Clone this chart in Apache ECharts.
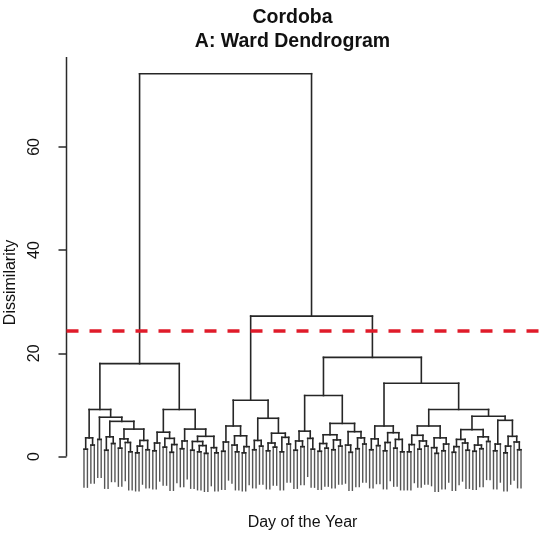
<!DOCTYPE html>
<html>
<head>
<meta charset="utf-8">
<script src="https://cdn.jsdelivr.net/npm/echarts@6/dist/echarts.min.js"></script>
<style>
  html, body { margin: 0; padding: 0; background: #ffffff; }
  #chart { width: 543px; height: 541px; }
</style>
</head>
<body>
<div id="chart"></div>
<script>
// Ward clustering of days, Cordoba.
// Each merge is [height, left, right]; a bare 0 is a single day (leaf).

// Left branch
const clusterA1 = [9.1,
  [3.6, [1.4, 0, 0], [2.2, 0, 0]],
  [7.6,
    [3.3, 0, 0],
    [6.8,
      [3.8, [1.2, 0, 0], [2.5, 0, 0]],
      [5.3,
        [3.4, [1.6, 0, 0], [2.7, 0, [0.9, 0, 0]]],
        [3.1, [2.0, [0.7, 0, 0], 0], [1.3, 0, 0]]]]]];

const clusterA2 = [9.1,
  [4.7,
    [2.6, [1.1, 0, 0], 0],
    [3.5, [1.8, 0, 0], [2.3, [0.8, 0, 0], 0]]],
  [5.3,
    [3.0, [1.5, 0, 0], 0],
    [3.9,
      [2.9, [1.2, 0, 0], [2.1, [0.9, 0, 0], [0.6, 0, 0]]],
      [1.7, 0, [0.7, 0, 0]]]]];

// Right branch, first group
const clusterB1a = [5.9,
  [2.8, [1.0, 0, 0], 0],
  [4.0, [2.2, 0, [0.9, 0, 0]], [1.9, [0.7, 0, 0], 0]]];

const clusterB1b = [7.4,
  [3.1, [1.3, 0, 0], [2.0, 0, 0]],
  [4.5,
    [2.6, [1.1, 0, 0], [1.8, 0, 0]],
    [3.7, [0.9, 0, 0], [2.4, 0, 0]]]];

// Right branch, second group
const clusterB2aLeft = [4.9,
  [3.0, [1.2, 0, 0], [1.9, 0, 0]],
  [3.5, 0, [1.4, 0, 0]]];

const clusterB2aRight = [6.4,
  [4.2, [2.5, [1.0, 0, 0], [1.6, 0, 0]], [3.2, [1.3, 0, 0], [2.0, 0, 0]]],
  [4.8, [2.2, 0, [0.8, 0, 0]], [3.6, [1.5, 0, 0], [2.4, 0, 0]]]];

const clusterB2bLeft = [5.9,
  [3.4, [1.3, 0, 0], [2.1, 0, 0]],
  [4.6, [2.7, [1.1, 0, 0], 0], [3.3, [1.6, 0, 0], [0.9, 0, 0]]]];

const clusterB2bMid = [5.9,
  [4.1, [2.3, [0.9, 0, 0], 0], [3.0, [1.4, 0, 0], [2.0, 0, 0]]],
  [3.6, [1.7, 0, [0.6, 0, 0]], [2.4, [1.1, 0, 0], 0]]];

const clusterB2bRightA = [5.2,
  [3.3, [1.9, [0.8, 0, 0], 0], [2.6, 0, [1.2, 0, 0]]],
  [3.8, [2.2, [1.0, 0, 0], [1.5, 0, 0]], [2.9, 0, 0]]];

const clusterB2bRightB = [7.0,
  [2.4, [1.1, 0, 0], 0],
  [3.9, [2.0, [0.7, 0, 0], 0], [2.8, 0, [1.3, 0, 0]]]];

// Upper merges
const clusterA   = [18.0, clusterA1, clusterA2];
const clusterB1  = [10.9, clusterB1a, clusterB1b];
const clusterB2a = [11.8, clusterB2aLeft, clusterB2aRight];
const clusterB2b = [14.2, clusterB2bLeft,
  [9.1, clusterB2bMid, [7.8, clusterB2bRightA, clusterB2bRightB]]];
const clusterB2  = [19.2, clusterB2a, clusterB2b];
const clusterB   = [27.2, clusterB1, clusterB2];
const tree       = [74.2, clusterA, clusterB];

const yTicks = [0, 20, 40, 60];
const cutHeight = 24.3;

// ---- dendrogram geometry (R plot.hclust conventions) ----
const isLeaf = n => !Array.isArray(n);
let minH = Infinity, maxH = -Infinity, nLeaves = 0;
(function scan(n) {
  if (isLeaf(n)) { nLeaves++; return; }
  minH = Math.min(minH, n[0]); maxH = Math.max(maxH, n[0]);
  scan(n[1]); scan(n[2]);
})(tree);
const hang = 0.1 * (maxH - minH);

const segments = []; // [x1, y1, x2, y2, isLeafDrop]
let leafPos = 0;
function place(n) {
  if (isLeaf(n)) return { x: ++leafPos, leaf: true };
  const h = n[0];
  const a = place(n[1]), b = place(n[2]);
  [a, b].forEach(c => {
    if (c.leaf) segments.push([c.x, h, c.x, h - hang, 1]);
    else segments.push([c.x, h, c.x, c.h, 0]);
  });
  segments.push([a.x, h, b.x, h, 0]);
  return { x: (a.x + b.x) / 2, h: h, leaf: false };
}
place(tree);

const xMin = 1 - 0.04 * (nLeaves - 1), xMax = nLeaves + 0.04 * (nLeaves - 1);
const yLow = minH - hang, yRange = maxH - yLow;
const yMin = yLow - 0.04 * yRange, yMax = maxH + 0.04 * yRange;

const FONT = '"Liberation Sans", Arial, Helvetica, sans-serif';
const chart = echarts.init(document.getElementById('chart'), null, { renderer: 'canvas' });

chart.setOption({
  animation: false,
  backgroundColor: '#ffffff',
  grid: { left: 66.5, right: 4.5, top: 57, bottom: 33, containLabel: false, outerBoundsMode: 'none' },
  xAxis: {
    type: 'value', min: xMin, max: xMax,
    axisLine: { show: false, onZero: false }, axisTick: { show: false },
    axisLabel: { show: false }, splitLine: { show: false },
    name: 'Day of the Year', nameLocation: 'middle', nameGap: 7,
    nameTextStyle: { fontSize: 16, color: '#111', fontFamily: FONT }
  },
  yAxis: {
    type: 'value', min: yMin, max: yMax,
    axisLine: { show: false, onZero: false },
    splitLine: { show: false },
    axisTick: { show: true, length: 8, customValues: yTicks,
      lineStyle: { color: '#2a2a2a', width: 1.5 } },
    axisLabel: { show: true, customValues: yTicks, rotate: 90, margin: 24,
      fontSize: 16, color: '#111', fontFamily: FONT },
    name: 'Dissimilarity', nameLocation: 'middle', nameRotate: 90, nameGap: 40,
    nameTextStyle: { fontSize: 16, color: '#111', fontFamily: FONT }
  },
  graphic: [
    { type: 'text', x: 292.5, y: 18, style: { text: 'Cordoba', align: 'center', verticalAlign: 'middle',
      textAlign: 'center', textVerticalAlign: 'middle',
      font: 'bold 19.5px ' + FONT, fill: '#111' } },
    { type: 'text', x: 292.5, y: 42, style: { text: 'A: Ward Dendrogram', align: 'center', verticalAlign: 'middle',
      textAlign: 'center', textVerticalAlign: 'middle',
      font: 'bold 19.5px ' + FONT, fill: '#111' } }
  ],
  series: [
    {
      // vertical axis line, from 0 up to the top of the plotting region
      type: 'custom', silent: true, z: 3,
      data: [[yTicks[0]]],
      renderItem: function (params, api) {
        const cs = params.coordSys;
        const p = api.coord([xMin, api.value(0)]);
        return { type: 'line', shape: { x1: cs.x, y1: p[1], x2: cs.x, y2: cs.y },
          style: { stroke: '#2a2a2a', lineWidth: 1.5 } };
      }
    },
    {
      type: 'custom', silent: true, z: 2,
      data: segments,
      renderItem: function (params, api) {
        const p1 = api.coord([api.value(0), api.value(1)]);
        const p2 = api.coord([api.value(2), api.value(3)]);
        const leaf = api.value(4) === 1;
        return { type: 'line', shape: { x1: p1[0], y1: p1[1], x2: p2[0], y2: p2[1] },
          style: { stroke: leaf ? '#555555' : '#262626', lineWidth: leaf ? 1.4 : 1.6, lineCap: 'square' } };
      }
    },
    {
      // cut level
      type: 'custom', silent: true, z: 4,
      data: [[cutHeight]],
      renderItem: function (params, api) {
        const cs = params.coordSys;
        const p = api.coord([xMin, api.value(0)]);
        return { type: 'line', shape: { x1: cs.x, y1: p[1], x2: cs.x + cs.width, y2: p[1] },
          style: { stroke: '#e01b2a', lineWidth: 3.5, lineDash: [12, 11] } };
      }
    }
  ]
});
</script>
</body>
</html>
